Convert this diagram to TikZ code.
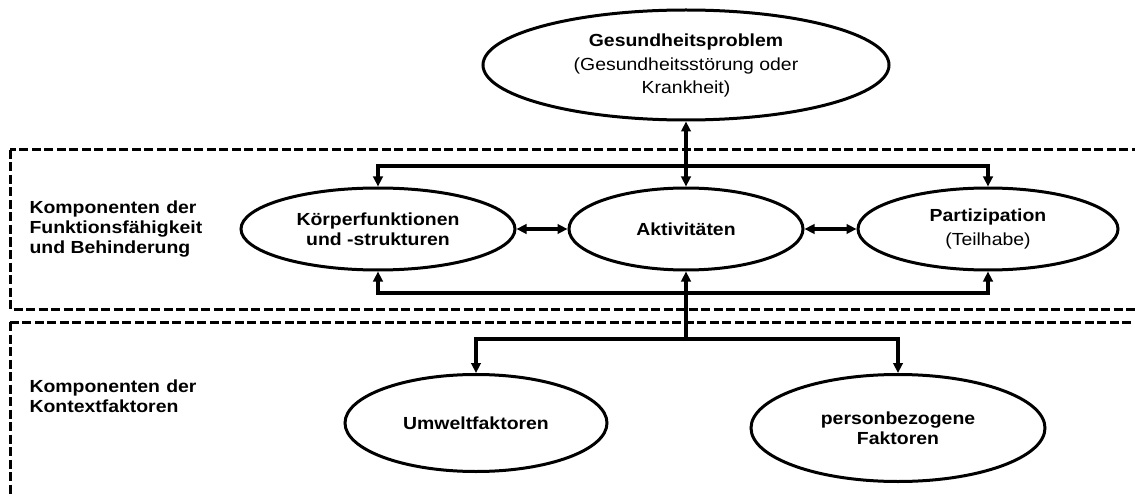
\documentclass[tikz,border=0pt]{standalone}
\usepackage{fontspec}
\setmainfont{Liberation Sans}[FakeStretch=1.11]
\usetikzlibrary{shapes.geometric,arrows.meta}

\tikzset{
  oval/.style={ellipse, draw, line width=3pt, inner sep=0pt, align=center,
               font=\fontsize{17.5}{20}\selectfont\bfseries},
  conn/.style={line width=3.3pt},
  tip/.style={-{Triangle[length=10pt,width=9.5pt]}},
  tips/.style={{Triangle[length=10pt,width=9.5pt]}-{Triangle[length=10pt,width=9.5pt]}},
  zone/.style={draw, line width=3pt, dash pattern=on 9pt off 3.5pt},
  label/.style={align=left, anchor=west, font=\fontsize{17.5}{20}\selectfont\bfseries}
}
\newcommand{\wideline}[1]{\makebox[167pt][s]{#1}}

\begin{document}
\begin{tikzpicture}[x=1pt, y=-1pt]
\useasboundingbox (0,0) rectangle (1135,497);
\clip (0,0) rectangle (1135,497);

% component zones
\draw[zone] (10,150) rectangle (1160,309);
\draw[zone] (10,322) rectangle (1160,520);

\node[label] (lf) at (26,229) {\wideline{Komponenten der}\\Funktionsfähigkeit\\und Behinderung};
\node[label] (lk) at (26,396) {\wideline{Komponenten der}\\Kontextfaktoren};

% nodes
\node[oval, minimum width=406pt, minimum height=110pt] (gp) at (686,65)
  {Gesundheitsproblem\\[4pt]\mdseries(Gesundheitsstörung oder\\[3pt]\mdseries Krankheit)};
\node[oval, minimum width=274pt, minimum height=82pt] (koerper) at (378,229)
  {Körperfunktionen\\und -strukturen};
\node[oval, minimum width=234pt, minimum height=82pt] (akt) at (686,229)
  {Aktivitäten};
\node[oval, minimum width=260pt, minimum height=82pt] (part) at (988,229)
  {Partizipation\\[4pt]\mdseries(Teilhabe)};
\node[oval, minimum width=262pt, minimum height=97pt] (umwelt) at (476,423)
  {Umweltfaktoren};
\node[oval, minimum width=294pt, minimum height=107pt] (person) at (898,428)
  {personbezogene\\Faktoren};

% junction points
\coordinate (high) at (686,166);
\coordinate (low) at (686,293);
\coordinate (hub) at (686,339);

% connectors
\draw[conn, tips] (gp.south) -- (akt.north);
\draw[conn, tip] (high) -| (koerper.north);
\draw[conn, tip] (high) -| (part.north);
\draw[conn, tips] (koerper.east) -- (akt.west);
\draw[conn, tips] (akt.east) -- (part.west);
\draw[conn, tip] (low) -| (koerper.south);
\draw[conn, tip] (low) -| (part.south);
\draw[conn, tip] (hub) -- (akt.south);
\draw[conn, tip] (hub) -| (umwelt.north);
\draw[conn, tip] (hub) -| (person.north);
\end{tikzpicture}
\end{document}
